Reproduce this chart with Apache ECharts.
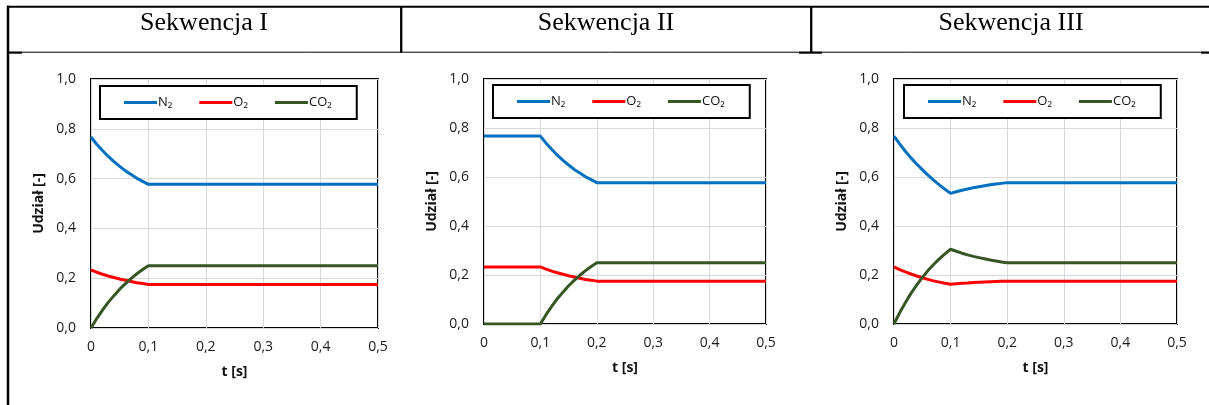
<!DOCTYPE html>
<html><head><meta charset="utf-8">
<script src="https://cdn.jsdelivr.net/npm/echarts@6/dist/echarts.min.js"></script>
<style>html,body{margin:0;padding:0;background:#fff}#c{width:1209px;height:405px}</style>
</head><body><div id="c"></div>
<script>
const headers = ['Sekwencja I', 'Sekwencja II', 'Sekwencja III'];
const seriesNames = ['N₂', 'O₂', 'CO₂'];
const yTicks = [0, 0.2, 0.4, 0.6, 0.8, 1.0];
const xTicks = [0, 0.1, 0.2, 0.3, 0.4, 0.5];

const t1 = [0,0.01,0.02,0.03,0.04,0.05,0.06,0.07,0.08,0.09,0.1,0.5];
const s1N2 = [0.767,0.738,0.713,0.689,0.668,0.649,0.631,0.616,0.601,0.589,0.577,0.577];
const s1O2 = [0.233,0.224,0.216,0.209,0.203,0.197,0.192,0.187,0.182,0.179,0.175,0.175];
const s1CO2 = [0,0.038,0.072,0.103,0.130,0.156,0.178,0.199,0.218,0.235,0.250,0.250];

const t2 = [0,0.1,0.11,0.12,0.13,0.14,0.15,0.16,0.17,0.18,0.19,0.2,0.5];
const s2N2 = [0.767,0.767,0.738,0.713,0.689,0.668,0.649,0.631,0.616,0.601,0.589,0.577,0.577];
const s2O2 = [0.233,0.233,0.224,0.216,0.209,0.203,0.197,0.192,0.187,0.182,0.179,0.175,0.175];
const s2CO2 = [0,0,0.038,0.072,0.103,0.130,0.156,0.178,0.199,0.218,0.235,0.250,0.250];

const t3 = [0,0.01,0.02,0.03,0.04,0.05,0.06,0.07,0.08,0.09,0.1,0.11,0.12,0.13,0.14,0.15,0.16,0.17,0.18,0.19,0.2,0.5];
const s3N2 = [0.767,0.735,0.705,0.678,0.653,0.630,0.608,0.587,0.568,0.550,0.533,0.540,0.546,0.551,0.556,0.560,0.564,0.568,0.571,0.574,0.577,0.577];
const s3O2 = [0.233,0.222,0.213,0.204,0.196,0.189,0.182,0.176,0.171,0.166,0.162,0.164,0.166,0.167,0.169,0.170,0.171,0.172,0.173,0.174,0.175,0.175];
const s3CO2 = [0,0.046,0.087,0.125,0.159,0.190,0.218,0.243,0.266,0.286,0.305,0.297,0.289,0.282,0.276,0.271,0.266,0.261,0.257,0.253,0.250,0.250];

const panels = [
  {t: t1, vals: [s1N2, s1O2, s1CO2]},
  {t: t2, vals: [s2N2, s2O2, s2CO2]},
  {t: t3, vals: [s3N2, s3O2, s3CO2]}
];
const colors = ['#0070C0', '#FF0000', '#375623'];

const layout = [
  {grid: {left: 91, top: 79, width: 287, height: 249}, legend: {left: 100, top: 86}, head: 204},
  {grid: {left: 484, top: 79, width: 282, height: 245}, legend: {left: 493, top: 85}, head: 606},
  {grid: {left: 894, top: 79, width: 283, height: 245}, legend: {left: 904, top: 85}, head: 1011}
];

const FONT = '"Open Sans", "DejaVu Sans", sans-serif';
const fmtY = v => v.toFixed(1).replace('.', ',');
const fmtX = v => v === 0 ? '0' : v.toFixed(1).replace('.', ',');

const grids = [], xAxes = [], yAxes = [], series = [], legends = [];
layout.forEach((L, i) => {
  grids.push(Object.assign({show: true, borderColor: '#000', borderWidth: 2, backgroundColor: 'transparent'}, L.grid));
  xAxes.push({
    type: 'value', gridIndex: i, min: xTicks[0], max: xTicks[xTicks.length - 1], interval: 0.1,
    axisLine: {show: false}, axisTick: {show: false},
    splitLine: {show: true, lineStyle: {color: '#D9D9D9', width: 1}},
    axisLabel: {formatter: fmtX, color: '#1a1a1a', fontFamily: FONT, fontSize: 14, margin: 12},
    name: 't [s]', nameLocation: 'middle', nameGap: 37,
    nameTextStyle: {fontFamily: FONT, fontSize: 14, fontWeight: 'bold', color: '#111'}
  });
  yAxes.push({
    type: 'value', gridIndex: i, min: yTicks[0], max: yTicks[yTicks.length - 1], interval: 0.2,
    axisLine: {show: false}, axisTick: {show: false},
    splitLine: {show: true, lineStyle: {color: '#D9D9D9', width: 1}},
    axisLabel: {formatter: fmtY, color: '#1a1a1a', fontFamily: FONT, fontSize: 14, margin: 15},
    name: 'Udział [-]', nameLocation: 'middle', nameGap: 45, nameRotate: 90,
    nameTextStyle: {fontFamily: FONT, fontSize: 14, fontWeight: 'bold', color: '#111'}
  });
  const P = panels[i];
  seriesNames.forEach((n, k) => {
    series.push({
      type: 'line', name: n, xAxisIndex: i, yAxisIndex: i,
      data: P.t.map((tt, j) => [tt, P.vals[k][j]]),
      showSymbol: false, symbol: 'none', smooth: false,
      lineStyle: {width: 3, color: colors[k]}, itemStyle: {color: colors[k]},
      z: 3 + k
    });
  });
  legends.push({
    data: seriesNames, left: L.legend.left, top: L.legend.top,
    orient: 'horizontal', icon: 'rect', itemWidth: 33, itemHeight: 3, itemGap: 27,
    borderColor: '#000', borderWidth: 2, padding: [10, 25, 10, 24],
    backgroundColor: '#fff',
    selectedMode: false,
    textStyle: {fontFamily: FONT, fontSize: 13, color: '#111', padding: [0, 0, 0, -4]}
  });
});

const graphics = [];
const ln = (x1, y1, x2, y2, w) => graphics.push({type: 'line', shape: {x1, y1, x2, y2}, style: {stroke: '#000', lineWidth: w}, silent: true});
ln(7, 6.7, 1209, 6.7, 2);
ln(8, 5.7, 8, 405, 2.5);
ln(401.2, 6, 401.2, 52.5, 2.3);
ln(811.2, 6, 811.2, 52.5, 2.3);
ln(8, 52.2, 1209, 52.2, 1);
ln(8, 52.7, 22, 52.7, 2);
ln(799, 52.7, 822, 52.7, 2);
ln(1201, 52.7, 1209, 52.7, 2);
layout.forEach((L, i) => {
  graphics.push({type: 'text', x: L.head, y: 23, silent: true,
    style: {text: headers[i], fill: '#000', font: '26px "Liberation Serif", "Times New Roman", serif', textAlign: 'center', textVerticalAlign: 'middle'}});
});

const chart = echarts.init(document.getElementById('c'), null, {renderer: 'canvas'});
chart.setOption({
  animation: false,
  backgroundColor: '#fff',
  grid: grids, xAxis: xAxes, yAxis: yAxes, series: series, legend: legends,
  graphic: graphics
});
</script></body></html>
